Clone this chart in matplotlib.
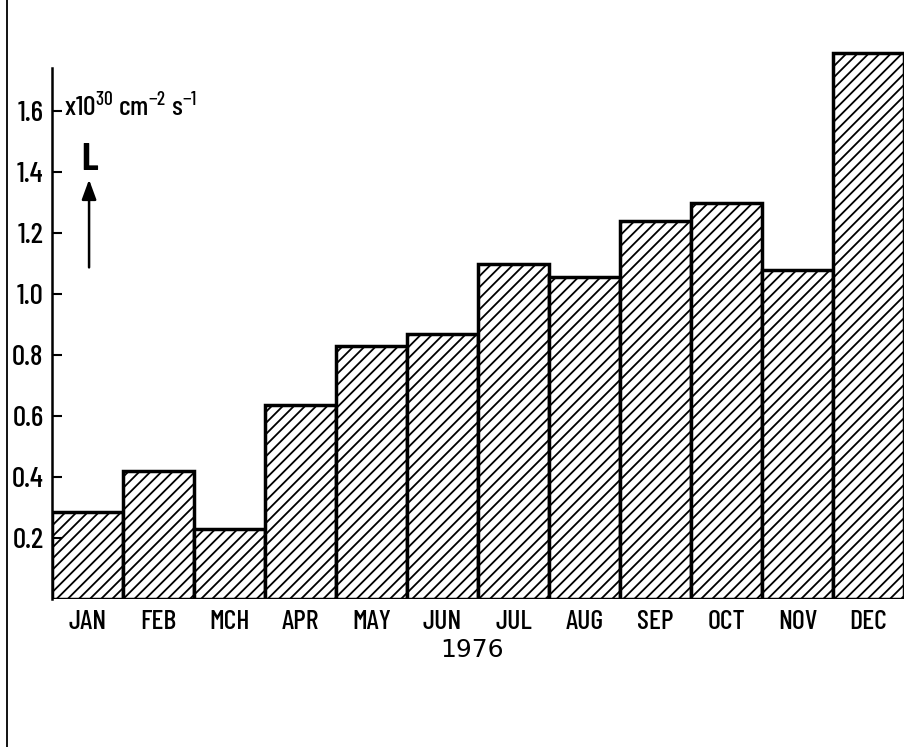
import matplotlib.pyplot as plt
from matplotlib.lines import Line2D

months = ['JAN', 'FEB', 'MCH', 'APR', 'MAY', 'JUN', 'JUL', 'AUG', 'SEP', 'OCT', 'NOV', 'DEC']
lum = [0.285, 0.42, 0.23, 0.635, 0.83, 0.87, 1.10, 1.055, 1.24, 1.30, 1.08, 1.79]
yticks = [0.2, 0.4, 0.6, 0.8, 1.0, 1.2, 1.4, 1.6]
year = '1976'

plt.rcParams['font.family'] = ['Barlow Condensed', 'DejaVu Sans']
plt.rcParams['font.weight'] = 'medium'
plt.rcParams['mathtext.default'] = 'regular'
plt.rcParams['hatch.linewidth'] = 1.3

fig = plt.figure(figsize=(9.07, 7.47), dpi=100)
ax = fig.add_axes([52/907, 148/747, 852/907, 549/747])

x = list(range(len(months)))
ax.bar(x, lum, width=1.0, color='white', edgecolor='black', linewidth=2.5, hatch='///')

ax.set_xlim(-0.5, 11.5)
ax.set_ylim(0, 1.80)
for s in ['top', 'right', 'bottom']:
    ax.spines[s].set_visible(False)
ax.spines['left'].set_linewidth(1.8)
ax.spines['left'].set_bounds(0, 1.74)

ax.set_yticks(yticks)
ax.set_yticklabels(['%.1f' % v for v in yticks], fontsize=21, fontweight='medium')
ax.tick_params(axis='y', direction='in', length=7, width=1.5, pad=6)
ax.set_xticks(x)
ax.set_xticklabels(months, fontsize=20, fontweight='medium')
ax.tick_params(axis='x', length=0, pad=8)

ax.text(0.4925, -0.093, year, transform=ax.transAxes, ha='center', va='center',
        fontsize=18, family='DejaVu Sans')
ax.text(0.014, 0.896, 'x10$^{30}$ cm$^{-2}$ s$^{-1}$', transform=ax.transAxes,
        ha='left', va='center', fontsize=20)
ax.text(0.044, 0.80, 'L', transform=ax.transAxes, ha='center', va='center',
        fontsize=28, fontweight='bold')
ax.annotate('', xy=(0.0435, 0.764), xytext=(0.0435, 0.604), xycoords='axes fraction',
            arrowprops=dict(arrowstyle='-|>,head_length=0.6,head_width=0.22', color='black',
                            lw=1.8, mutation_scale=20, shrinkA=0, shrinkB=0))

fig.add_artist(Line2D([7/907, 7/907], [0, 1], color='black', lw=1.3))

plt.savefig('out.png')
